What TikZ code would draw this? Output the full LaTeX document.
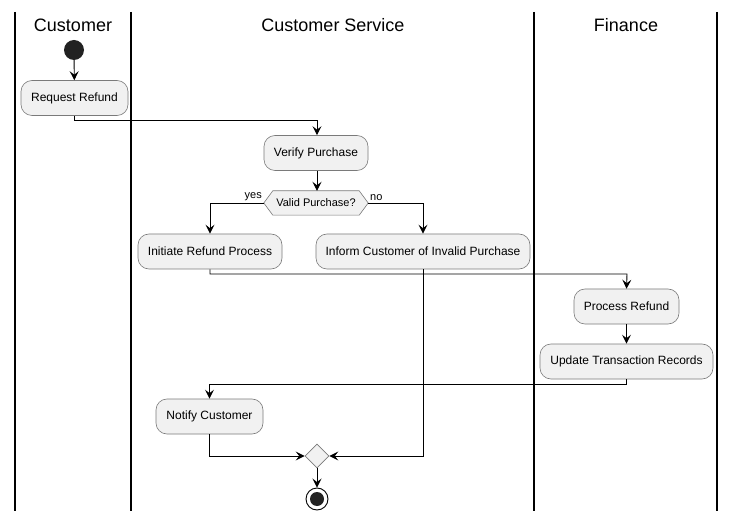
\documentclass[tikz,border=0pt]{standalone}
\usepackage{fontspec}
\setmainfont{Liberation Sans}
\usetikzlibrary{arrows.meta,calc,shapes.geometric}
\definecolor{boxfill}{HTML}{F1F1F1}
\definecolor{boxline}{HTML}{7A7A7A}
\definecolor{startfill}{HTML}{222222}
\tikzset{
  act/.style={draw=boxline, fill=boxfill, rounded corners=11pt, line width=0.6pt,
    minimum height=35pt, inner xsep=0pt, font=\fontsize{12}{14}\selectfont},
  lane/.style={line width=1.6pt, black},
  lanetitle/.style={font=\fontsize{18}{20}\selectfont},
  flow/.style={line width=0.9pt, black, -{Stealth[length=9pt,width=9pt,inset=3.5pt]}},
  guard/.style={font=\fontsize{11}{12}\selectfont, inner sep=1pt},
}
\begin{document}
\begin{tikzpicture}[x=1pt,y=-1pt]
\useasboundingbox (0,0) rectangle (736,521);
\fill[white] (0,0) rectangle (736,521);
% lanes
\draw[lane] (15,12) -- (15,511);
\draw[lane] (131,12) -- (131,511);
\draw[lane] (534,12) -- (534,511);
\draw[lane] (717,12) -- (717,511);
\node[lanetitle] (tCust) at (73,25) {Customer};
\node[lanetitle] (tCS) at (333,25) {Customer Service};
\node[lanetitle] (tFin) at (626,25) {Finance};
% nodes
\node[circle, fill=startfill, minimum size=20pt, inner sep=0pt] (start) at (74,50) {};
\node[act, minimum width=107pt] (req) at (74.5,98) {Request Refund};
\node[act, minimum width=104pt] (verify) at (316,153) {Verify Purchase};
\node[minimum width=104pt, minimum height=24pt, inner sep=0pt, font=\fontsize{11}{12}\selectfont] (dec) at (316,203) {Valid Purchase?};
\draw[draw=boxline, fill=boxfill, line width=0.6pt]
  (dec.west) -- ($(dec.north west)+(9,0)$) -- ($(dec.north east)+(-9,0)$) -- (dec.east)
  -- ($(dec.south east)+(-9,0)$) -- ($(dec.south west)+(9,0)$) -- cycle;
\node[font=\fontsize{11}{12}\selectfont] at (dec) {Valid Purchase?};
\node[act, minimum width=144pt] (init) at (210,251.5) {Initiate Refund Process};
\node[act, minimum width=214pt] (inform) at (423,251.5) {Inform Customer of Invalid Purchase};
\node[act, minimum width=105pt] (proc) at (626.5,306.5) {Process Refund};
\node[act, minimum width=173pt] (upd) at (626.5,361.5) {Update Transaction Records};
\node[act, minimum width=107pt] (notify) at (209.5,416.5) {Notify Customer};
\node[diamond, draw=boxline, fill=boxfill, line width=0.6pt, minimum width=24pt, minimum height=24pt, inner sep=0pt] (merge) at (317,456) {};
\node[circle, draw=black, line width=0.9pt, fill=white, minimum size=22pt, inner sep=0pt] (end) at (317,499) {};
\fill[startfill] (end.center) circle (7pt);
% guards
\node[guard, anchor=south east] (gy) at (263,202) {yes};
\node[guard, anchor=south west] (gn) at (369,202) {no};
% connectors
\draw[flow] (start) -- (req);
\draw[flow] (req.south) |- (317,120) -- (verify.north -| 317,0);
\draw[flow] (verify.south -| 317,0) -- (dec.north -| 317,0);
\draw[flow] (dec.west) -| (init.north);
\draw[flow] (dec.east) -| (inform.north);
\draw[flow] (init.south) |- (627,274) -- (proc.north);
\draw[flow] (proc) -- (upd);
\draw[flow] (upd.south) |- (209.5,384) -- (notify.north);
\draw[flow] (notify.south) |- (merge.west);
\draw[flow] (inform.south) |- (merge.east);
\draw[flow] (merge) -- (end);
\end{tikzpicture}
\end{document}
